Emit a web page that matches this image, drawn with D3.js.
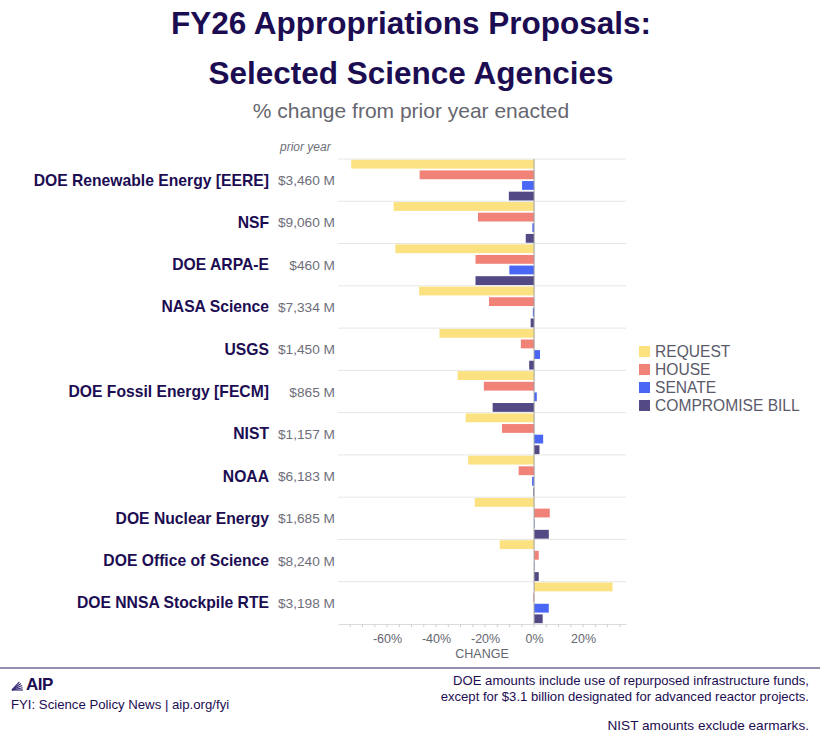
<!DOCTYPE html>
<html>
<head>
<meta charset="utf-8">
<script src="https://cdn.jsdelivr.net/npm/d3@7"></script>
<style>
  body { margin: 0; background: #fff; }
  svg { display: block; font-family: "Liberation Sans", Arial, sans-serif; }
</style>
</head>
<body>
<svg id="chart" width="820" height="743"></svg>
<script>
const agencies = ["DOE Renewable Energy [EERE]", "NSF", "DOE ARPA-E", "NASA Science", "USGS",
  "DOE Fossil Energy [FECM]", "NIST", "NOAA", "DOE Nuclear Energy", "DOE Office of Science", "DOE NNSA Stockpile RTE"];
const priorYear = ["$3,460 M", "$9,060 M", "$460 M", "$7,334 M", "$1,450 M", "$865 M", "$1,157 M", "$6,183 M", "$1,685 M", "$8,240 M", "$3,198 M"];
const seriesNames = ["REQUEST", "HOUSE", "SENATE", "COMPROMISE BILL"];
const seriesColors = ["#fbe17f", "#f08278", "#4a66f5", "#524985"];
const request    = [-74.6, -57.3, -56.6, -46.9, -38.6, -31.2, -27.9, -26.9, -24.2, -14.0, 32.0];
const house      = [-46.7, -22.9, -23.9, -18.4, -5.4, -20.5, -13.1, -6.3, 6.4, 1.9, -0.3];
const senate     = [-4.9, -0.7, -10.1, -0.5, 2.4, 1.1, 3.7, -0.8, 0.2, 0.2, 6.0];
const compromise = [-10.3, -3.4, -23.9, -1.4, -2.0, -16.9, 2.2, -0.3, 6.0, 1.9, 3.5];
const tickValues = [-60, -40, -20, 0, 20];
const seriesValues = [request, house, senate, compromise];

const svg = d3.select("#chart");
const navy = "#1c0d52";

// Titles
svg.append("text").attr("x", 411).attr("y", 34).attr("text-anchor", "middle")
  .attr("font-size", 31.5).attr("font-weight", "bold").attr("fill", navy)
  .text("FY26 Appropriations Proposals:");
svg.append("text").attr("x", 411).attr("y", 84).attr("text-anchor", "middle")
  .attr("font-size", 31.5).attr("font-weight", "bold").attr("fill", navy)
  .text("Selected Science Agencies");
svg.append("text").attr("x", 411).attr("y", 118).attr("text-anchor", "middle")
  .attr("font-size", 21).attr("fill", "#666670")
  .text("% change from prior year enacted");

// Scales
const x = d3.scaleLinear().domain([-80, 37.5]).range([338, 626]);
const y = d3.scaleBand().domain(agencies).range([159, 624]);
const ySub = d3.scaleBand().domain(seriesNames).range([0.8, y.bandwidth() - 0.8]).paddingInner(0.17);

// Gridlines at band boundaries
svg.append("g").selectAll("line").data(agencies).join("line")
  .attr("x1", x.range()[0]).attr("x2", x.range()[1])
  .attr("y1", d => y(d)).attr("y2", d => y(d))
  .attr("stroke", "#e6e6e6").attr("stroke-width", 1);

// Bars
const rows = [];
agencies.forEach((a, i) => {
  seriesNames.forEach((s, j) => rows.push({ agency: a, series: s, value: seriesValues[j][i], color: seriesColors[j] }));
});
svg.append("g").selectAll("rect").data(rows).join("rect")
  .attr("x", d => x(Math.min(0, d.value)))
  .attr("width", d => Math.abs(x(d.value) - x(0)))
  .attr("y", d => y(d.agency) + ySub(d.series))
  .attr("height", ySub.bandwidth())
  .attr("fill", d => d.color);

// Zero line
svg.append("line").attr("x1", x(0)).attr("x2", x(0)).attr("y1", 159).attr("y2", 624)
  .attr("stroke", "#a0a0a0").attr("stroke-width", 1);

// Axis
const axis = d3.axisBottom(x).tickValues(tickValues).tickFormat(d => d + "%").tickSize(0).tickPadding(10);
const ax = svg.append("g").attr("transform", "translate(0,624)").call(axis);
ax.select(".domain").attr("stroke", "#dcdcdc");
ax.selectAll("text").attr("font-size", 12.5).attr("fill", "#666670").attr("font-family", "Liberation Sans, Arial, sans-serif");
const minor = d3.range(-75, 36, 5);
svg.append("g").selectAll("line").data(minor).join("line")
  .attr("x1", d => x(d)).attr("x2", d => x(d)).attr("y1", 624).attr("y2", 627)
  .attr("stroke", "#cfcfcf");
svg.append("text").attr("x", (x.range()[0] + x.range()[1]) / 2).attr("y", 658)
  .attr("text-anchor", "middle").attr("font-size", 12.5).attr("fill", "#666670").text("CHANGE");

// Category labels
svg.append("g").selectAll("text").data(agencies).join("text")
  .attr("x", 269).attr("y", d => y(d) + y.bandwidth() / 2 + 5.5)
  .attr("text-anchor", "end").attr("font-size", 15.7).attr("font-weight", "bold").attr("fill", navy)
  .text(d => d);
svg.append("g").selectAll("text").data(priorYear).join("text")
  .attr("x", 335).attr("y", (d, i) => y(agencies[i]) + y.bandwidth() / 2 + 5)
  .attr("text-anchor", "end").attr("font-size", 13.7).attr("fill", "#6e6e7a")
  .text(d => d);
svg.append("text").attr("x", 280).attr("y", 151).attr("font-size", 12).attr("font-style", "italic")
  .attr("fill", "#6e6e7a").text("prior year");

// Legend
const lg = svg.append("g").attr("transform", "translate(639,345)");
seriesNames.forEach((s, i) => {
  lg.append("rect").attr("x", 0).attr("y", i * 18 + 1).attr("width", 11).attr("height", 11).attr("fill", seriesColors[i]);
  lg.append("text").attr("x", 16).attr("y", i * 18 + 12).attr("font-size", 15.6).attr("fill", "#5a5a6a").text(s);
});

// Footer
svg.append("line").attr("x1", 0).attr("x2", 820).attr("y1", 668).attr("y2", 668)
  .attr("stroke", "#6b6a90").attr("stroke-width", 1.5);
const logo = svg.append("g").attr("transform", "translate(12,690)");
[0, 12, 24, 36, 48].forEach(a => {
  const r = a * Math.PI / 180;
  logo.append("line").attr("x1", 0).attr("y1", 0)
    .attr("x2", 11 * Math.cos(r)).attr("y2", -11 * Math.sin(r))
    .attr("stroke", "#3a2f78").attr("stroke-width", 1.2);
});
svg.append("text").attr("x", 26).attr("y", 690).attr("font-size", 17).attr("font-weight", "bold")
  .attr("fill", navy).attr("letter-spacing", -0.5).text("AIP");
const footTexts = [
  { t: "FYI: Science Policy News | aip.org/fyi", x: 11, y: 709, anchor: "start", size: 13.2 },
  { t: "DOE amounts include use of repurposed infrastructure funds,", x: 809, y: 685, anchor: "end", size: 13.1 },
  { t: "except for $3.1 billion designated for advanced reactor projects.", x: 809, y: 701, anchor: "end", size: 13.1 },
  { t: "NIST amounts exclude earmarks.", x: 809, y: 730, anchor: "end", size: 13.6 }
];
footTexts.forEach(f => svg.append("text").attr("x", f.x).attr("y", f.y).attr("text-anchor", f.anchor)
  .attr("font-size", f.size).attr("fill", navy).text(f.t));
</script>
</body>
</html>
